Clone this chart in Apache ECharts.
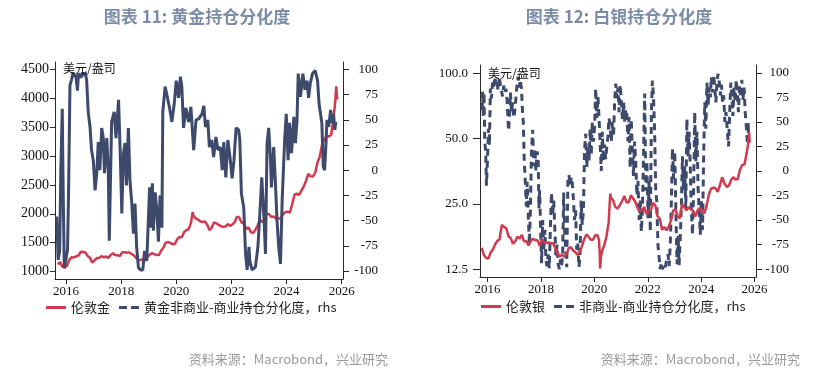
<!DOCTYPE html>
<html><head><meta charset="utf-8">
<script src="https://cdn.jsdelivr.net/npm/echarts@6/dist/echarts.min.js"></script>
<style>html,body{margin:0;padding:0;background:#fff}#c{width:823px;height:370px}</style>
</head><body><div id="c"></div>
<script>
// ---------- DATA ----------
const yearTicks = [2016, 2018, 2020, 2022, 2024, 2026];
const goldTicks = [1000, 1500, 2000, 2500, 3000, 3500, 4000, 4500];
const silverTicks = [12.5, 25, 50, 100];
const posTicks = [-100, -75, -50, -25, 0, 25, 50, 75, 100];

// Gold price, monthly (mid-month) from 2015-09
const goldPriceStart = [2015, 9];
const goldPriceMonthly = [
  1125, 1160, 1085, 1068,
  1097, 1200, 1246, 1242, 1260, 1276, 1337, 1341, 1326, 1266, 1238, 1152,
  1192, 1234, 1231, 1266, 1246, 1260, 1236, 1283, 1315, 1280, 1282, 1265,
  1331, 1331, 1325, 1335, 1303, 1282, 1238, 1202, 1198, 1215, 1221, 1250,
  1291, 1320, 1301, 1285, 1284, 1359, 1413, 1500, 1510, 1495, 1470, 1480,
  1560, 1597, 1591, 1683, 1716, 1732, 1847, 1968, 1921, 1900, 1866, 1858,
  1867, 1808, 1718, 1760, 1850, 1834, 1807, 1785, 1775, 1777, 1821, 1790,
  1817, 1856, 1948, 1937, 1849, 1836, 1732, 1765, 1681, 1664, 1726, 1798,
  1898, 1855, 1912, 2000, 1992, 1943, 1951, 1918, 1916, 1916, 1986, 2031,
  2034, 2023, 2160, 2331, 2350, 2326, 2398, 2470, 2570, 2690, 2650, 2645,
  2710, 2895, 2985, 3195, 3285, 3350, 3340, 3370, 3665
];
const goldPriceExtraDates = ['2020-08-06', '2025-10-01', '2025-10-10', '2025-10-20', '2025-10-31', '2025-11-07'];
const goldPriceExtraValues = [2030, 3860, 4000, 4210, 4000, 3980];

// Gold non-commercial minus commercial positioning percentile (rhs)
const goldPosDates = [
  '2015-09-01','2015-09-20','2015-10-10','2015-10-25','2015-11-13','2015-11-25','2015-12-10','2015-12-28',
  '2016-01-22','2016-02-05','2016-02-23','2016-03-15','2016-04-06','2016-04-25','2016-05-10','2016-06-01',
  '2016-06-15','2016-07-01','2016-07-20','2016-08-05','2016-08-25','2016-09-10','2016-10-01','2016-10-22',
  '2016-11-15','2016-12-05','2016-12-28','2017-01-21','2017-02-12','2017-03-04','2017-03-25','2017-04-19',
  '2017-05-10','2017-05-25','2017-06-25','2017-07-15','2017-07-28','2017-08-28','2017-10-01','2017-10-25',
  '2017-11-28','2017-12-19','2018-01-10','2018-02-01','2018-02-21','2018-03-13','2018-04-07','2018-04-28',
  '2018-05-22','2018-06-13','2018-07-04','2018-07-25','2018-08-19','2018-09-15','2018-10-15','2018-11-07',
  '2018-12-07','2019-01-13','2019-02-01','2019-02-19','2019-03-04','2019-03-28','2019-04-19','2019-05-10',
  '2019-06-01','2019-06-25','2019-07-07','2019-08-07','2019-09-07','2019-10-04','2019-11-04','2019-12-04',
  '2020-01-01','2020-02-01','2020-02-25','2020-03-15','2020-04-07','2020-05-07','2020-06-13','2020-07-13',
  '2020-08-19','2020-09-19','2020-10-25','2020-12-07','2021-01-01','2021-01-22','2021-02-22','2021-03-15',
  '2021-04-15','2021-05-10','2021-06-10','2021-07-07','2021-08-07','2021-09-01','2021-09-22','2021-10-19',
  '2021-11-15','2021-12-13','2022-01-10','2022-02-04','2022-03-04','2022-04-07','2022-04-22','2022-05-13',
  '2022-06-13','2022-07-07','2022-07-28','2022-08-22','2022-09-01','2022-10-01','2022-11-15','2022-12-18',
  '2023-01-22','2023-02-07','2023-03-10','2023-03-28','2023-04-18','2023-05-10','2023-06-03','2023-06-15',
  '2023-07-15','2023-08-07','2023-08-28','2023-09-19','2023-10-13','2023-11-04','2023-12-07','2023-12-28',
  '2024-01-22','2024-02-10','2024-03-07','2024-04-07','2024-04-28','2024-05-19','2024-06-04','2024-07-04',
  '2024-08-04','2024-09-01','2024-09-28','2024-10-19','2024-11-10','2024-12-10','2025-01-15','2025-02-15',
  '2025-03-07','2025-04-13','2025-05-01','2025-05-19','2025-06-07','2025-06-19','2025-07-13','2025-08-07',
  '2025-08-28','2025-09-15','2025-10-01','2025-10-15'
];
const goldPosValues = [
  -46, -89, -80, 0, 61, -20, -97, -90,
  -79, -20, 84, 90, 97, 93, 95, 79,
  96, 96, 92, 97, 94, 97, 90, 58,
  43, 20, 10, -20, -3, 28, 0, 42,
  32, -3, 32, 0, -70, 48, 58, 32,
  70, 20, -43, 17, 27, -15, 42, -10,
  -33, -63, -33, -76, -97, -99, -99, -80,
  -90, -17, -57, -13, -60, -22, -40, -71,
  -25, -57, 58, 83, 72, 62, 48, 65,
  89, 72, 93, 83, 42, 62, 48, 63,
  20, 50, 51, 56, 64, 43, 50, 23,
  30, 13, 33, 20, 23, 0, 28, -7,
  30, 13, -8, 10, 42, 40, 30, -23,
  -37, -83, -99, -76, -90, -99, -96, -76,
  -30, -7, -50, -83, 27, 42, 10, -17,
  23, -13, -50, -76, -93, -30, 30, 56,
  10, 47, 17, 53, 27, 50, 96, 73,
  96, 80, 89, 72, 86, 96, 99, 89,
  66, 47, 4, 0, 27, 50, 43, 60,
  47, 56, 40, 48
];

// Silver price, monthly (mid-month) from 2015-10
const silverPriceStart = [2015, 10];
const silverPriceMonthly = [
  15.7, 14.5, 14.1,
  14.0, 15.0, 15.4, 16.3, 16.9, 17.2, 20.0, 19.6, 19.3, 17.7, 17.4, 16.4,
  16.8, 17.7, 17.3, 18.0, 16.8, 16.9, 16.1, 16.9, 17.3, 17.0, 17.0, 16.1,
  17.1, 16.6, 16.5, 16.6, 16.5, 16.5, 15.7, 14.9, 14.3, 14.6, 14.3, 14.6,
  15.6, 15.8, 15.3, 15.0, 14.6, 15.0, 15.9, 17.2, 18.1, 17.6, 17.1, 17.1,
  18.0, 17.9, 14.9, 15.1, 16.1, 17.7, 20.5, 26.9, 25.9, 24.2, 23.8, 24.7,
  25.8, 27.2, 25.5, 25.4, 27.4, 26.5, 25.6, 23.9, 23.2, 23.4, 24.2, 22.4,
  23.2, 23.6, 25.3, 24.6, 21.9, 21.4, 19.0, 19.6, 18.9, 19.7, 21.0, 23.3,
  23.6, 21.9, 21.5, 25.0, 24.1, 23.4, 24.2, 23.6, 23.2, 21.9, 23.4, 24.0,
  23.0, 22.7, 24.5, 27.6, 29.4, 29.7, 29.6, 28.4, 30.6, 33.2, 31.0, 30.0,
  30.4, 32.3, 33.2, 32.4, 32.6, 36.0, 37.8, 38.0, 43.0
];
const silverPriceExtraDates = ['2020-03-05', '2020-03-20', '2020-04-01', '2020-08-06', '2025-10-01', '2025-10-10', '2025-10-17', '2025-10-24', '2025-11-05'];
const silverPriceExtraValues = [17.0, 12.6, 14.3, 27.9, 46.5, 50.0, 53.5, 48.5, 48.0];

// Silver non-commercial minus commercial positioning percentile (rhs)
const silverPosDates = [
  '2015-10-20','2015-10-27','2015-11-05','2015-11-15','2015-11-25','2015-12-08','2015-12-18',
  '2016-01-01','2016-01-15','2016-01-28','2016-02-10','2016-02-25','2016-03-10','2016-03-25','2016-04-10','2016-04-25',
  '2016-05-10','2016-05-25','2016-06-10','2016-06-25','2016-07-10','2016-07-25','2016-08-10','2016-08-25',
  '2016-09-10','2016-09-25','2016-10-05','2016-10-15','2016-10-28','2016-11-10','2016-11-25','2016-12-10','2016-12-25',
  '2017-01-10','2017-01-25','2017-02-10','2017-02-25','2017-03-10','2017-03-25','2017-04-10','2017-04-25',
  '2017-05-05','2017-05-18','2017-06-01','2017-06-15','2017-06-28','2017-07-12','2017-07-28','2017-08-10','2017-08-25',
  '2017-09-10','2017-09-25','2017-10-10','2017-10-25','2017-11-10','2017-11-25','2017-12-05','2017-12-15','2017-12-28',
  '2018-01-10','2018-01-25','2018-02-10','2018-02-25','2018-03-10','2018-03-25','2018-04-10','2018-04-25',
  '2018-05-10','2018-05-25','2018-06-10','2018-06-25','2018-07-10','2018-07-25','2018-08-10','2018-08-25',
  '2018-09-10','2018-09-25','2018-10-10','2018-10-25','2018-11-08','2018-11-20','2018-12-05','2018-12-20',
  '2019-01-05','2019-01-20','2019-02-05','2019-02-20','2019-03-05','2019-03-20','2019-04-05','2019-04-20',
  '2019-05-05','2019-05-20','2019-06-05','2019-06-20','2019-07-05','2019-07-20','2019-08-05','2019-08-20',
  '2019-09-05','2019-09-20','2019-10-05','2019-10-20','2019-11-05','2019-11-20','2019-12-05','2019-12-20',
  '2020-01-05','2020-01-20','2020-02-05','2020-02-20','2020-03-05','2020-03-20','2020-04-05','2020-04-20',
  '2020-05-05','2020-05-20','2020-06-05','2020-06-20','2020-07-05','2020-07-20','2020-08-05','2020-08-20',
  '2020-09-05','2020-09-20','2020-10-05','2020-10-20','2020-11-05','2020-11-20','2020-12-05','2020-12-20',
  '2021-01-05','2021-01-20','2021-02-05','2021-02-20','2021-03-05','2021-03-20','2021-04-05','2021-04-20',
  '2021-05-05','2021-05-20','2021-06-05','2021-06-20','2021-07-05','2021-07-20','2021-08-05','2021-08-20',
  '2021-09-05','2021-09-20','2021-10-05','2021-10-20','2021-11-05','2021-11-20','2021-12-05','2021-12-20',
  '2022-01-05','2022-01-20','2022-02-05','2022-02-20','2022-03-05','2022-03-20','2022-04-05','2022-04-20',
  '2022-05-05','2022-05-20','2022-06-05','2022-06-20','2022-07-05','2022-07-20','2022-08-05','2022-08-20',
  '2022-09-05','2022-09-20','2022-10-05','2022-10-20','2022-11-05','2022-11-20','2022-12-05','2022-12-20',
  '2023-01-05','2023-01-20','2023-02-05','2023-02-20','2023-03-05','2023-03-20','2023-04-05','2023-04-20',
  '2023-05-05','2023-05-20','2023-06-05','2023-06-20','2023-07-05','2023-07-20','2023-08-05','2023-08-20',
  '2023-09-05','2023-09-20','2023-10-05','2023-10-20','2023-11-05','2023-11-20','2023-12-05','2023-12-20',
  '2024-01-05','2024-01-20','2024-02-05','2024-02-20','2024-03-05','2024-03-20','2024-04-05','2024-04-20',
  '2024-05-05','2024-05-20','2024-06-05','2024-06-20','2024-07-05','2024-07-20','2024-08-05','2024-08-20',
  '2024-09-05','2024-09-20','2024-10-05','2024-10-20','2024-11-05','2024-11-20','2024-12-05','2024-12-20',
  '2025-01-10','2025-01-25','2025-02-10','2025-02-25','2025-03-10','2025-03-25','2025-04-10','2025-04-25',
  '2025-05-10','2025-05-25','2025-06-10','2025-06-25','2025-07-10','2025-07-25','2025-08-10','2025-08-25',
  '2025-09-10','2025-09-25','2025-10-05','2025-10-12'
];
const silverPosValues = [
  62, 81, 55, 80, 30, 20, -15,
  10, 43, 26, 84, 74, 90, 85, 96, 88,
  92, 82, 96, 88, 90, 76, 87, 80,
  84, 72, 73, 41, 55, 80, 60, 70, 54,
  62, 75, 90, 96, 85, 93, 84, 60,
  50, 10, -10, -36, -11, -45, -75, -40, 20,
  42, 5, 23, 0, 20, 10, -38, -20, -60,
  -94, -50, -81, -60, -90, -97, -85, -99,
  -59, -22, -45, -30, -59, -86, -75, -95,
  -100, -90, -97, -86, -22, -59, -80, -98,
  -10, -4, -15, -6, -12, -27, -50, -40,
  -80, -73, -98, -86, -30, -55, -40, 20,
  38, 4, 25, 10, 43, 16, 50, 30,
  45, 84, 54, 76, 55, 30, 0, 40,
  10, 27, 12, 25, 35, 54, 45, 30,
  50, 35, 70, 89, 74, 85, 60, 88,
  70, 53, 70, 50, 63, 60, 30, 55,
  3, 53, 20, -5, 30, 10, -25, -10,
  -50, -30, -62, -40, 20, 79, -20, 10,
  -48, -10, -62, 60, 92, 77, 40, -20,
  -32, -75, -88, -100, -93, -100, -97, -100,
  -95, -88, -85, -97, -75, -30, 23, -8,
  20, -40, -95, -66, -96, -70, -38, 15,
  -20, 5, -38, 53, 15, 40, 5, -40,
  -65, -20, 60, 10, 40, -17, -40, -65,
  -30, -60, 20, 70, 43, 90, 67, 85,
  75, 96, 80, 98, 85, 70, 92, 99,
  90, 77, 88, 70, 77, 50, 60, 45,
  25, 60, 90, 75, 56, 85, 70, 93,
  80, 60, 88, 75, 93, 72, 85, 60,
  45, 27, 50, 30
];

// ---------- BUILD ----------
const ts = s => { const p = s.split('-').map(Number); return new Date(p[0], p[1] - 1, p[2]).getTime(); };
function monthlySeries(start, values) {
  const out = [];
  let y = start[0], m = start[1];
  for (const v of values) {
    out.push([new Date(y, m - 1, 15).getTime(), v]);
    m++; if (m > 12) { m = 1; y++; }
  }
  return out;
}
function pairs(dates, values) { return dates.map((d, i) => [ts(d), values[i]]); }
function merged(a, b) { return a.concat(b).sort((p, q) => p[0] - q[0]); }
const yearTs = yearTicks.map(y => new Date(y, 0, 1).getTime());

const goldPriceData = merged(monthlySeries(goldPriceStart, goldPriceMonthly), pairs(goldPriceExtraDates, goldPriceExtraValues));
const silverPriceData = merged(monthlySeries(silverPriceStart, silverPriceMonthly), pairs(silverPriceExtraDates, silverPriceExtraValues));
const goldPosData = pairs(goldPosDates, goldPosValues);
const silverPosData = pairs(silverPosDates, silverPosValues);

const RED = '#cf3a4f', NAVY = '#3d4a6b', AX = '#2a2a2a';
const SERIF = '"Liberation Serif", "DejaVu Serif", serif';
const CJK = '"Noto Sans CJK SC", "Noto Sans", sans-serif';
const ICON_SOLID = 'path://M0,0H20V3H0Z';
const ICON_DASH = 'path://M0,0H8V3H0ZM12,0H20V3H12Z';

function xAxis(gridIndex, min, max, margin) {
  return {
    type: 'value', gridIndex, min: ts(min), max: ts(max),
    axisLine: { show: true, onZero: false, lineStyle: { color: AX, width: 1 } },
    axisTick: { show: true, length: 5, inside: false, lineStyle: { color: AX }, customValues: yearTs },
    axisLabel: { customValues: yearTs, margin, fontFamily: SERIF, fontSize: 13, color: '#111',
      formatter: v => String(new Date(v).getFullYear()) },
    splitLine: { show: false }
  };
}
function posAxis(gridIndex, min, max, margin) {
  return {
    type: 'value', gridIndex, position: 'right', min, max,
    axisLine: { show: true, onZero: false, lineStyle: { color: AX, width: 1 } },
    axisTick: { show: true, length: 6, lineStyle: { color: AX }, customValues: posTicks },
    axisLabel: { customValues: posTicks, align: 'right', margin, fontFamily: SERIF, fontSize: 13, color: '#111',
      formatter: v => String(v) },
    splitLine: { show: false }
  };
}
function legend(left, top, names) {
  return {
    left, top, padding: 0, itemWidth: 20, itemHeight: 3, itemGap: 9,
    textStyle: { fontFamily: CJK, fontSize: 13, color: '#222' },
    data: [
      { name: names[0], icon: ICON_SOLID, itemStyle: { color: RED } },
      { name: names[1], icon: ICON_DASH, itemStyle: { color: NAVY } }
    ]
  };
}

const option = {
  animation: false,
  backgroundColor: '#fff',
  grid: [
    { left: 55, top: 62, width: 288, height: 217 },
    { left: 480, top: 65, width: 276, height: 212 }
  ],
  xAxis: [
    xAxis(0, '2015-08-09', '2026-01-18', 6),
    xAxis(1, '2015-09-21', '2026-01-20', 6)
  ],
  yAxis: [
    {
      type: 'value', gridIndex: 0, position: 'left', min: 869, max: 4631,
      axisLine: { show: true, onZero: false, lineStyle: { color: AX, width: 1 } },
      axisTick: { show: true, length: 5, lineStyle: { color: AX }, customValues: goldTicks },
      axisLabel: { customValues: goldTicks, margin: 6, fontFamily: SERIF, fontSize: 14, color: '#111',
        formatter: v => String(v) },
      splitLine: { show: false }
    },
    posAxis(0, -108, 107.5, 35),
    {
      type: 'log', logBase: 2, gridIndex: 1, position: 'left', min: 11.52, max: 109.2,
      axisLine: { show: true, onZero: false, lineStyle: { color: AX, width: 1 } },
      axisTick: { show: true, length: 7, lineStyle: { color: AX }, customValues: silverTicks },
      axisLabel: { customValues: silverTicks, margin: 12, fontFamily: SERIF, fontSize: 13, color: '#111',
        formatter: v => Number(v).toFixed(1) },
      splitLine: { show: false }
    },
    posAxis(1, -108, 108, 33)
  ],
  legend: [
    legend(46, 301, ['伦敦金', '黄金非商业-商业持仓分化度，rhs']),
    legend(481, 300, ['伦敦银', '非商业-商业持仓分化度，rhs'])
  ],
  series: [
    { name: '伦敦金', type: 'line', xAxisIndex: 0, yAxisIndex: 0, data: goldPriceData,
      showSymbol: false, symbol: 'none', z: 2, lineStyle: { color: RED, width: 2.5 }, itemStyle: { color: RED } },
    { name: '黄金非商业-商业持仓分化度，rhs', type: 'line', xAxisIndex: 0, yAxisIndex: 1, data: goldPosData,
      showSymbol: false, symbol: 'none', z: 3, lineStyle: { color: NAVY, width: 3 }, itemStyle: { color: NAVY } },
    { name: '伦敦银', type: 'line', xAxisIndex: 1, yAxisIndex: 2, data: silverPriceData,
      showSymbol: false, symbol: 'none', z: 4, lineStyle: { color: RED, width: 2.5 }, itemStyle: { color: RED } },
    { name: '非商业-商业持仓分化度，rhs', type: 'line', xAxisIndex: 1, yAxisIndex: 3, data: silverPosData,
      showSymbol: false, symbol: 'none', z: 3, lineStyle: { color: NAVY, width: 3, type: [7, 5] }, itemStyle: { color: NAVY } }
  ],
  graphic: [
    { type: 'text', x: 197, y: 17, style: { text: '图表 11: 黄金持仓分化度', font: 'bold 17px ' + CJK, fill: '#7b8ca8', align: 'center', verticalAlign: 'middle' } },
    { type: 'text', x: 619, y: 17, style: { text: '图表 12: 白银持仓分化度', font: 'bold 17px ' + CJK, fill: '#7b8ca8', align: 'center', verticalAlign: 'middle' } },
    { type: 'text', x: 63, y: 68, z: 10, style: { text: '美元/盎司', font: '12px ' + CJK, fill: '#111', align: 'left', verticalAlign: 'middle' } },
    { type: 'text', x: 488, y: 73, z: 10, style: { text: '美元/盎司', font: '12px ' + CJK, fill: '#111', align: 'left', verticalAlign: 'middle' } },
    { type: 'text', x: 388, y: 359, style: { text: '资料来源：Macrobond，兴业研究', font: '13px ' + CJK, fill: '#9a9a9a', align: 'right', verticalAlign: 'middle' } },
    { type: 'text', x: 800, y: 359, style: { text: '资料来源：Macrobond，兴业研究', font: '13px ' + CJK, fill: '#9a9a9a', align: 'right', verticalAlign: 'middle' } }
  ]
};
const chart = echarts.init(document.getElementById('c'), null, { renderer: 'canvas' });
chart.setOption(option);
</script>
</body></html>
